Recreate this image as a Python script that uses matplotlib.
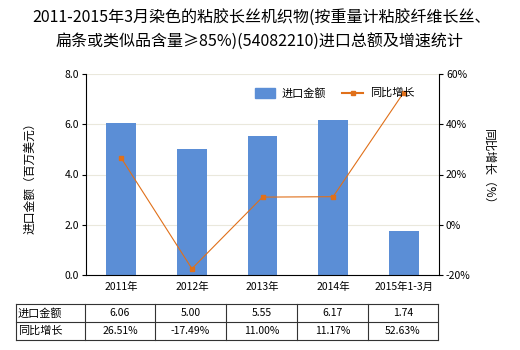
import matplotlib
matplotlib.use("Agg")
import matplotlib.pyplot as plt
from matplotlib.lines import Line2D
from matplotlib.patches import Rectangle

plt.rcParams['font.family'] = ['Noto Sans CJK SC', 'DejaVu Sans']

categories = ["2011年", "2012年", "2013年", "2014年", "2015年1-3月"]
import_values = [6.06, 5.00, 5.55, 6.17, 1.74]
growth_values = [26.51, -17.49, 11.00, 11.17, 52.63]
import_labels = ["6.06", "5.00", "5.55", "6.17", "1.74"]
growth_labels = ["26.51%", "-17.49%", "11.00%", "11.17%", "52.63%"]
left_ticks = [0, 2, 4, 6, 8]
right_ticks = [-20, 0, 20, 40, 60]

W, H = 520, 350
fig = plt.figure(figsize=(W/100, H/100), dpi=100)
fx = lambda x: x / W
fy = lambda y: 1 - y / H

ax = fig.add_axes([fx(86), fy(275), fx(439) - fx(86), fy(74) - fy(275)])
bar_color = "#5B8ED6"
line_color = "#E0701A"
x = list(range(len(categories)))
ax.bar(x, import_values, width=0.42, color=bar_color, zorder=2)
ax.set_xlim(-0.5, len(categories) - 0.5)
ax.set_ylim(0, 8)
ax.set_yticks(left_ticks)
ax.set_yticklabels([f"{v:.1f}" for v in left_ticks])
ax.set_xticks(x)
ax.set_xticklabels(categories)
ax.grid(axis='y', color='#EAE8DC', linewidth=0.8, zorder=0)
for s in ['top', 'right']:
    ax.spines[s].set_visible(False)
ax.spines['left'].set_color('black')
ax.spines['bottom'].set_color('black')
ax.tick_params(axis='both', labelsize=7.5, length=3, width=0.8, colors='black', pad=2)
ax.tick_params(axis='x', length=0, pad=5)

ax2 = ax.twinx()
ax2.plot(x, growth_values, color=line_color, linewidth=0.8, marker='s', markersize=3.5, zorder=3)
ax2.set_ylim(-20, 60)
ax2.set_yticks(right_ticks)
ax2.set_yticklabels([f"{v}%" for v in right_ticks])
for s in ['top', 'left', 'bottom']:
    ax2.spines[s].set_visible(False)
ax2.spines['right'].set_color('black')
ax2.tick_params(axis='y', labelsize=7.5, length=3, width=0.8, colors='black', pad=2)

fig.text(fx(30), fy(175), "进口金额（百万美元）", rotation=90, ha='center', va='center', fontsize=8.5)
fig.text(fx(489), fy(170), "同比增长（%）", rotation=270, ha='center', va='center', fontsize=8.5)

fig.text(fx(262), fy(18), "2011-2015年3月染色的粘胶长丝机织物(按重量计粘胶纤维长丝、", ha='center', va='center', fontsize=11.5)
fig.text(fx(260), fy(42), "扁条或类似品含量≥85%)(54082210)进口总额及增速统计", ha='center', va='center', fontsize=11.5)

# legend
fig.patches.append(Rectangle((fx(255), fy(98)), fx(275) - fx(255), fy(88) - fy(98),
                             transform=fig.transFigure, color=bar_color))
fig.text(fx(282), fy(93), "进口金额", ha='left', va='center', fontsize=8)
fig.lines.append(Line2D([fx(342), fx(363)], [fy(93), fy(93)], transform=fig.transFigure,
                        color=line_color, linewidth=1.5, marker=None))
fig.lines.append(Line2D([fx(352.5)], [fy(93)], transform=fig.transFigure,
                        color=line_color, marker='s', markersize=3.5))
fig.text(fx(370), fy(93), "同比增长", ha='left', va='center', fontsize=8)

# table
col_edges = [16, 85, 155, 226, 297, 368, 438]
row_edges = [304, 322, 340]
for xe in col_edges:
    fig.lines.append(Line2D([fx(xe), fx(xe)], [fy(row_edges[0]), fy(row_edges[-1])],
                            transform=fig.transFigure, color='#333333', linewidth=0.8))
for ye in row_edges:
    fig.lines.append(Line2D([fx(col_edges[0]), fx(col_edges[-1])], [fy(ye), fy(ye)],
                            transform=fig.transFigure, color='#333333', linewidth=0.8))
rows = [("进口金额", import_labels), ("同比增长", growth_labels)]
for r, (name, vals) in enumerate(rows):
    yc = (row_edges[r] + row_edges[r + 1]) / 2
    fig.text(fx(18), fy(yc), name, ha='left', va='center', fontsize=8)
    for c, v in enumerate(vals):
        xc = (col_edges[c + 1] + col_edges[c + 2]) / 2
        fig.text(fx(xc), fy(yc), v, ha='center', va='center', fontsize=7.5)

fig.savefig("out.png", dpi=100)
